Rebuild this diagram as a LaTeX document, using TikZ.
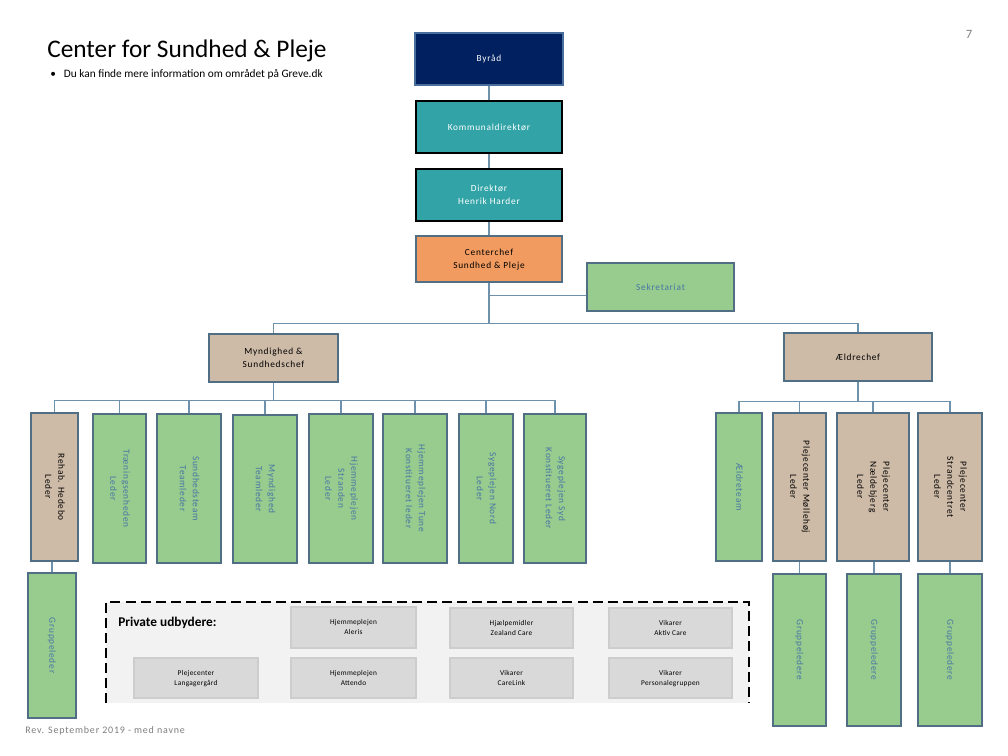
\documentclass[tikz,border=0pt]{standalone}
\usepackage{fontspec}
\setmainfont{Carlito}
\newfontfamily\bxf[LetterSpace=8]{Carlito}
\newfontfamily\pvf[LetterSpace=4]{Carlito}
\usetikzlibrary{calc}
\definecolor{navy}{RGB}{0,32,96}
\definecolor{navyb}{RGB}{72,110,155}
\definecolor{teal}{RGB}{50,164,167}
\definecolor{orng}{RGB}{241,155,96}
\definecolor{grn}{RGB}{152,203,142}
\definecolor{tan}{RGB}{205,186,167}
\definecolor{slate}{RGB}{80,110,132}
\definecolor{conn}{RGB}{110,145,172}
\definecolor{gtxt}{RGB}{72,118,165}
\definecolor{pvfill}{RGB}{217,217,217}
\definecolor{pvline}{RGB}{205,205,205}
\definecolor{pvbg}{RGB}{242,242,242}
\definecolor{gry}{RGB}{125,125,125}
\newcommand\vt[1]{\rotatebox{-90}{\begin{tabular}{@{}c@{}}#1\end{tabular}}}
\newcommand\hz[1]{\begin{tabular}{@{}c@{}}#1\end{tabular}}
\newcommand\bx[7]{%
  \pgfmathsetmacro\cx{(#2+#4)/2}\pgfmathsetmacro\cy{(#3+#5)/2}%
  \pgfmathsetmacro\ww{(#4-#2)*0.75}\pgfmathsetmacro\hh{(#5-#3)*0.75}%
  \node[#6, minimum width=\ww pt, minimum height=\hh pt] (#1) at (\cx,\cy) {#7};}
\tikzset{
  base/.style={draw=slate, line width=2pt, inner sep=0pt, align=center,
    font=\bxf\fontsize{7}{9.75}\selectfont},
  navybox/.style={base, fill=navy, draw=navyb, text=white},
  tealbox/.style={base, fill=teal, draw=black, text=white},
  orngbox/.style={base, fill=orng, text=black},
  grnbox/.style={base, fill=grn, text=gtxt},
  tanbox/.style={base, fill=tan, text=black},
  pvbox/.style={draw=pvline, fill=pvfill, line width=1.5pt, inner sep=0pt, align=center,
    font=\pvf\fontsize{5.5}{7.5}\selectfont, text=black},
  link/.style={draw=conn, line width=0.8pt},
}
\begin{document}
\begin{tikzpicture}[x=0.75pt, y=-0.75pt]
\useasboundingbox (0,0) rectangle (1008,756);
% header texts
\node[anchor=base west, inner sep=0pt, font=\fontsize{19}{23}\selectfont] (title) at (47,58) {Center for Sundhed \& Pleje};
\node[anchor=base west, inner sep=0pt, font=\fontsize{8.5}{10}\selectfont] (info) at (50,78) {\textbullet\hspace{6pt}Du kan finde mere information om området på Greve.dk};
\node[inner sep=0pt, font=\fontsize{9.5}{11}\selectfont, text=gry] (pg) at (969,34) {7};
\node[anchor=base west, inner sep=0pt, font=\bxf\fontsize{7.5}{9}\selectfont, text=gry] (rev) at (25,733) {Rev. September 2019 - med navne};
% top chain
\bx{byr}{415}{33}{563}{85}{navybox}{Byråd}
\bx{kom}{416}{101}{562}{153}{tealbox}{Kommunaldirektør}
\bx{dir}{416}{169}{562}{221}{tealbox}{\hz{Direktør\\Henrik Harder}}
\bx{cc}{416}{236}{562}{282}{orngbox}{\hz{Centerchef\\Sundhed \& Pleje}}
\bx{sek}{587}{263}{734}{311}{grnbox}{Sekretariat}
\bx{myn}{209}{334}{338}{382}{tanbox}{\hz{Myndighed \&\\Sundhedschef}}
\bx{ald}{784}{333}{932}{381}{tanbox}{Ældrechef}
% left verticals
\bx{rehab}{31}{413}{78}{561}{tanbox}{\vt{Rehab. Hedebo\\Leder}}
\bx{trae}{93}{414}{146}{563}{grnbox}{\vt{Træningsenheden\\Leder}}
\bx{sund}{157}{414}{221}{563}{grnbox}{\vt{Sundhedsteam\\Teamleder}}
\bx{mynt}{233}{415}{297}{563}{grnbox}{\vt{Myndighed\\Teamleder}}
\bx{hstr}{309}{414}{373}{563}{grnbox}{\vt{Hjemmeplejen\\Stranden\\Leder}}
\bx{htun}{383}{414}{447}{563}{grnbox}{\vt{Hjemmeplejen Tune\\Konstitueret leder}}
\bx{snord}{459}{414}{513}{563}{grnbox}{\vt{Sygeplejen Nord\\Leder}}
\bx{ssyd}{524}{414}{586}{563}{grnbox}{\vt{Sygeplejen Syd\\Konstitueret Leder}}
% right verticals
\bx{aet}{716}{413}{762}{561}{grnbox}{\vt{Ældreteam}}
\bx{moll}{773}{413}{826}{561}{tanbox}{\vt{Plejecenter Møllehøj\\Leder}}
\bx{nael}{837}{413}{909}{561}{tanbox}{\vt{Plejecenter\\Nældebjerg\\Leder}}
\bx{strc}{918}{413}{982}{561}{tanbox}{\vt{Plejecenter\\Strandcentret\\Leder}}
% group leaders
\bx{gl}{28}{573}{76}{718}{grnbox}{\vt{Gruppeleder}}
\bx{glA}{773}{574}{826}{726}{grnbox}{\vt{Gruppeledere}}
\bx{glB}{847}{574}{901}{726}{grnbox}{\vt{Gruppeledere}}
\bx{glC}{918}{574}{982}{726}{grnbox}{\vt{Gruppeledere}}
% private providers
\fill[pvbg] (106,602) rectangle (749,703);
\draw[black, line width=2.2pt, dash pattern=on 7.5pt off 3.8pt] (106,703) -- (106,602) -- (749,602) -- (749,703);
\node[anchor=base west, inner sep=0pt, font=\bfseries\fontsize{10}{12}\selectfont] (priv) at (118,626) {Private udbydere:};
\bx{alr}{291}{607}{416}{648}{pvbox}{\hz{Hjemmeplejen\\Aleris}}
\bx{zea}{450}{608}{573}{648}{pvbox}{\hz{Hjælpemidler\\Zealand Care}}
\bx{akt}{609}{608}{732}{648}{pvbox}{\hz{Vikarer\\Aktiv Care}}
\bx{lan}{134}{658}{258}{698}{pvbox}{\hz{Plejecenter\\Langagergård}}
\bx{att}{291}{658}{416}{698}{pvbox}{\hz{Hjemmeplejen\\Attendo}}
\bx{clk}{450}{658}{573}{698}{pvbox}{\hz{Vikarer\\CareLink}}
\bx{pgr}{609}{658}{732}{698}{pvbox}{\hz{Vikarer\\Personalegruppen}}
% connectors top
\draw[link] (kom.north) -- (kom.north |- byr.south);
\draw[link] (kom.south) -- (dir.north);
\draw[link] (dir.south) -- (cc.north);
\draw[link] (cc.south) -- ++(0,40) coordinate (b1);
\path (cc.south) ++(0,12) coordinate (s1);
\draw[link] (s1) -- (s1 -| sek.west);
\draw[link] (myn.north) |- (b1) -| (ald.north);
% connectors Myndighed
\draw[link] (myn.south) -- ++(0,17) coordinate (b2);
\draw[link] (rehab.north) |- (b2) -| (ssyd.north);
\foreach \n in {trae,sund,mynt,hstr,htun,snord}{\draw[link] (\n.north) -- (\n.north |- b2);}
% connectors Aeldrechef
\draw[link] (ald.south) -- ++(0,19) coordinate (b3);
\draw[link] (aet.north) |- (b3) -| (strc.north);
\foreach \n in {moll,nael}{\draw[link] (\n.north) -- (\n.north |- b3);}
% group leader links
\draw[link] (gl.north) -- (gl.north |- rehab.south);
\draw[link] (glA.north) -- (glA.north |- moll.south);
\draw[link] (glB.north) -- (glB.north |- nael.south);
\draw[link] (glC.north) -- (glC.north |- strc.south);
\end{tikzpicture}
\end{document}
